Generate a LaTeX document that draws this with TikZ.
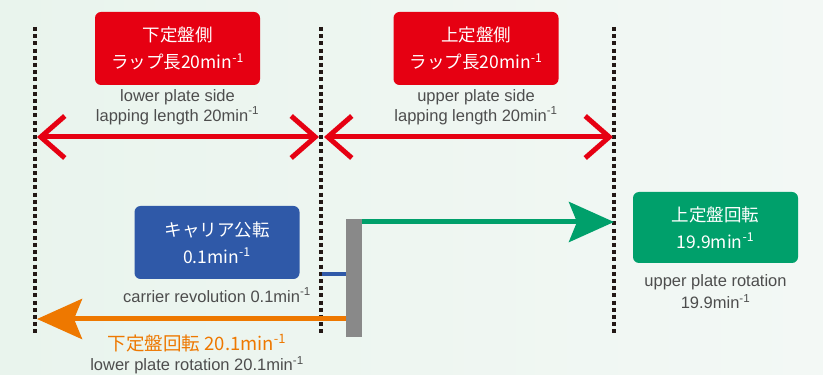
\documentclass[tikz,border=0pt]{standalone}
\usepackage{fontspec}
\setmainfont{Liberation Sans}
\newfontfamily\jpfont{Noto Sans CJK JP}
\usetikzlibrary{arrows.meta}
\definecolor{plateRed}{HTML}{E60012}
\definecolor{carrierBlue}{HTML}{2F59A8}
\definecolor{upperGreen}{HTML}{00A06B}
\definecolor{lowerOrange}{HTML}{EE7800}
\definecolor{barGray}{HTML}{898989}
\definecolor{captionGray}{HTML}{4D4D4D}
\definecolor{dotBlack}{HTML}{231815}
\definecolor{bgLeft}{HTML}{E9F4ED}
\definecolor{bgRight}{HTML}{F3F8F5}
\tikzset{%
  >={Stealth[length=45pt,width=40pt,inset=8pt]},
  % Specifications for style of nodes:
            base/.style = {rectangle, rounded corners=6pt, inner sep=0pt,
                           minimum width=165pt, minimum height=73pt,
                           align=center, text=white,
                           font=\jpfont\fontsize{17.5}{27}\selectfont},
         sideBox/.style = {base, fill=plateRed},
      carrierBox/.style = {base, fill=carrierBlue},
     upperRotBox/.style = {base, fill=upperGreen, minimum height=71pt},
         caption/.style = {align=center, text=captionGray, inner sep=0pt,
                           font=\fontsize{16.5}{20}\selectfont},
   lowerRotLabel/.style = {text=lowerOrange, inner sep=0pt,
                           font=\jpfont\fontsize{18.5}{22}\selectfont},
             bar/.style = {rectangle, fill=barGray, inner sep=0pt,
                           minimum width=16pt, minimum height=118pt},
  % Specifications for style of lines:
        dotLine/.style = {draw=dotBlack, line width=3.5pt,
                          dash pattern=on 4pt off 3.2pt},
       redArrow/.style = {draw=plateRed, line width=5pt,
                          {Straight Barb[length=24pt,width=42pt]}-{Straight Barb[length=24pt,width=42pt]}},
     greenArrow/.style = {draw=upperGreen, fill=upperGreen, line width=5pt},
    orangeArrow/.style = {draw=lowerOrange, fill=lowerOrange, line width=5pt},
       blueLine/.style = {draw=carrierBlue, line width=4pt},
}

\begin{document}
\begin{tikzpicture}[x=1pt, y=1pt]
  \shade[left color=bgLeft, right color=bgRight] (0,0) rectangle (823,375);
  \useasboundingbox (0,0) rectangle (823,375);
  % Dotted guide lines
  \coordinate (leftTop)     at (35,348);
  \coordinate (leftBottom)  at (35,40);
  \coordinate (midTop)      at (321,348);
  \coordinate (midBottom)   at (321,40);
  \coordinate (rightTop)    at (614,348);
  \coordinate (rightBottom) at (614,40);
  \draw[dotLine] (leftTop)  -- (leftBottom);
  \draw[dotLine] (midTop)   -- (midBottom);
  \draw[dotLine] (rightTop) -- (rightBottom);
  % Specification of nodes (position, etc.)
  \node (lowerSide)     [sideBox] at (177.5,326.5)
                                  {下定盤側\\ラップ長20min\textsuperscript{-1}};
  \node (upperSide)     [sideBox] at (476,326.5)
                                  {上定盤側\\ラップ長20min\textsuperscript{-1}};
  \node (lowerSideText) [caption, below of=lowerSide, node distance=58.5pt]
                  {lower plate side\\lapping length 20min\textsuperscript{-1}};
  \node (upperSideText) [caption, below of=upperSide, node distance=58.5pt]
                  {upper plate side\\lapping length 20min\textsuperscript{-1}};
  \node (carrier)       [carrierBox] at (217,132.5)
                                  {キャリア公転\\0.1min\textsuperscript{-1}};
  \node (carrierText)   [caption, below of=carrier, node distance=52.5pt]
                           {carrier revolution 0.1min\textsuperscript{-1}};
  \node (upperRot)      [upperRotBox] at (715.5,147.5)
                                  {上定盤回転\\19.9min\textsuperscript{-1}};
  \node (upperRotText)  [caption, below of=upperRot, node distance=64pt,
                         font=\fontsize{16.5}{22}\selectfont]
                           {upper plate rotation\\19.9min\textsuperscript{-1}};
  \node (carrierBar)    [bar] at (354,97) {};
  \node (lowerRot)      [lowerRotLabel] at (197,32)
                                  {下定盤回転 20.1min\textsuperscript{-1}};
  \node (lowerRotText)  [caption, below of=lowerRot, node distance=22pt]
                           {lower plate rotation 20.1min\textsuperscript{-1}};
  % Specification of lines between nodes specified above
  \coordinate (lowerLeftEnd)  at (37,238);
  \coordinate (lowerRightEnd) at (319,238);
  \coordinate (upperLeftEnd)  at (324,238);
  \coordinate (upperRightEnd) at (613,238);
  \coordinate (greenTip)      at (614,153);
  \coordinate (blueEnd)       at (322,101);
  \coordinate (orangeTip)     at (37,56);
  \draw[redArrow]      (lowerLeftEnd) -- (lowerRightEnd);
  \draw[redArrow]      (upperLeftEnd) -- (upperRightEnd);
  \draw[->, greenArrow] (carrierBar.east |- greenTip) -- (greenTip);
  \draw[blueLine]      (blueEnd) -- (carrierBar.west |- blueEnd);
  \draw[->, orangeArrow] (carrierBar.west |- orangeTip) -- (orangeTip);
\end{tikzpicture}
\end{document}
